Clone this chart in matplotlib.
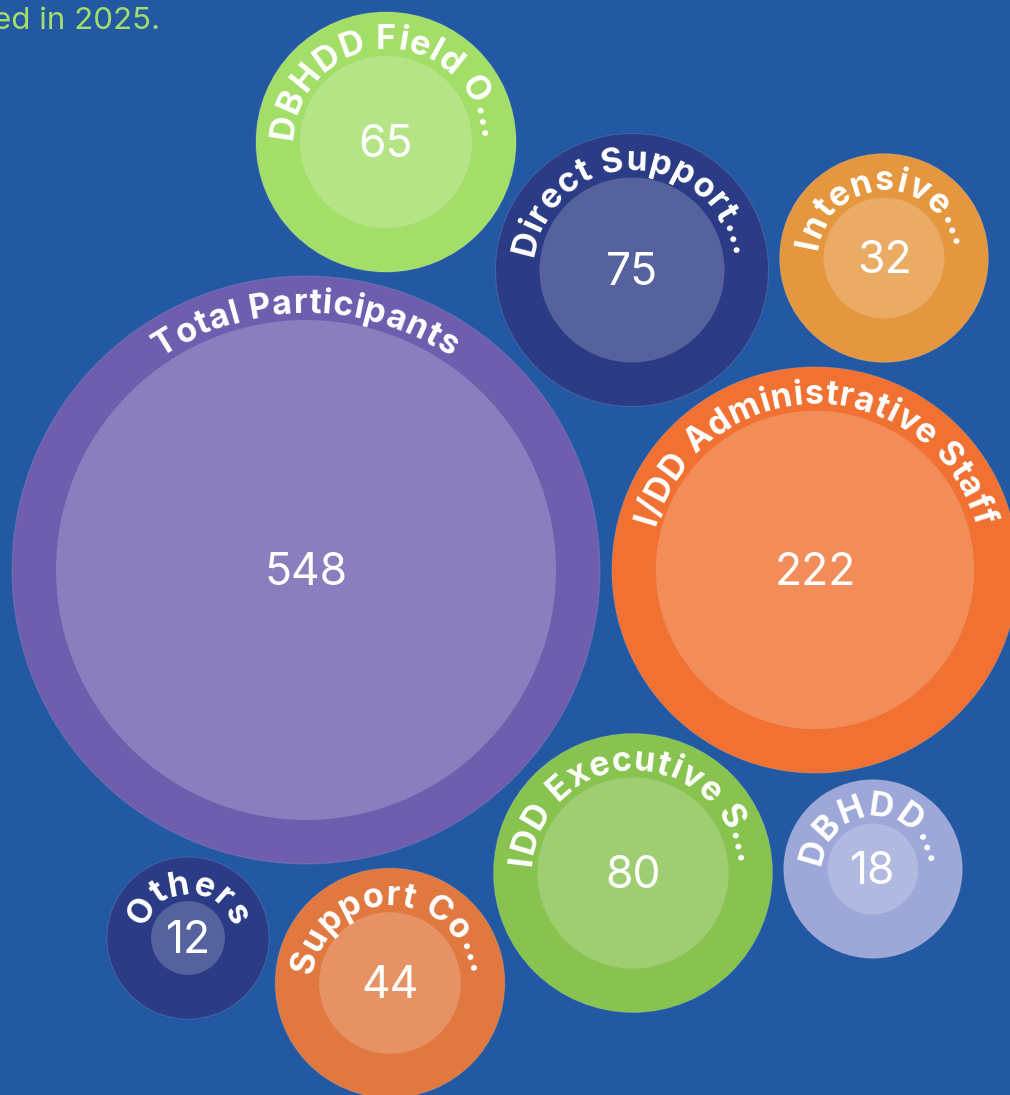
import numpy as np
import matplotlib
matplotlib.use("Agg")
import matplotlib.pyplot as plt
from matplotlib.patches import Circle
from matplotlib.font_manager import FontProperties, findfont
from matplotlib.ft2font import FT2Font

# ---------------- data ----------------
labels = ["Total Participants", "I/DD Administrative Staff", "DBHDD Field O…",
          "Direct Support…", "Intensive…", "IDD Executive S…", "DBHDD…",
          "Others", "Support Co…"]
values = [548, 222, 65, 75, 32, 80, 18, 12, 44]
subtitle = "ed in 2025."

# ---------------- layout / style ----------------
layout_x = [306, 815, 386, 632, 884, 633, 873, 188, 390]
layout_y = [570, 570, 142, 270, 258, 873, 869, 938, 983]
colors = ["#6F5DAE", "#F07132", "#A2DE68", "#2B3B85", "#E5973F",
          "#88C34F", "#9DA8D9", "#2B3B85", "#E0783F"]
bg = "#2359A3"
ring = 44.0
k = (294.0 - ring) / np.sqrt(max(values))

W, H = 1010, 1095
fig = plt.figure(figsize=(W / 100, H / 100), dpi=100)
fig.patch.set_facecolor(bg)
ax = fig.add_axes([0, 0, 1, 1])
ax.set_xlim(0, W)
ax.set_ylim(H, 0)
ax.set_aspect("equal")
ax.axis("off")
ax.set_facecolor(bg)

label_fp = FontProperties(family=["Inter", "DejaVu Sans"], weight="bold", size=24.5)
value_fp = FontProperties(family=["Inter", "DejaVu Sans"], weight="normal", size=32)

ft = FT2Font(findfont(label_fp))
ft.set_size(label_fp.get_size_in_points(), 100)

def advance(c):
    try:
        from matplotlib.ft2font import LoadFlags
        g = ft.load_char(ord(c), flags=LoadFlags.NO_HINTING)
    except Exception:
        g = ft.load_char(ord(c))
    return g.linearHoriAdvance / 65536.0

spacing = 0.8

for lab, v, cx, cy, col in zip(labels, values, layout_x, layout_y, colors):
    r_in = k * np.sqrt(v)
    r_out = r_in + ring
    ax.add_patch(Circle((cx, cy), r_out, facecolor=col, edgecolor=(1, 1, 1, 0.12), lw=0.8))
    ax.add_patch(Circle((cx, cy), r_in, facecolor=(1, 1, 1, 0.2), edgecolor="none"))
    ax.text(cx, cy + 3, str(v), color="white", ha="center", va="center",
            fontproperties=value_fp)
    # curved label
    R = r_out - 37
    advs = [advance(c) + spacing for c in lab]
    total = sum(advs) - spacing
    s = -total / 2
    for c, a in zip(lab, advs):
        mid = s + (a - spacing) / 2
        th = np.pi / 2 - mid / R
        x = cx + R * np.cos(th)
        y = cy - R * np.sin(th)
        ax.text(x, y, c, color="white", ha="center", va="baseline",
                rotation=np.degrees(th) - 90, rotation_mode="anchor",
                fontproperties=label_fp)
        s += a

ax.text(160, 29, subtitle, color="#A3DD6A", ha="right", va="baseline",
        fontproperties=FontProperties(family=["Inter", "DejaVu Sans"], size=22.5))

fig.savefig("out.png", dpi=100, facecolor=bg)
